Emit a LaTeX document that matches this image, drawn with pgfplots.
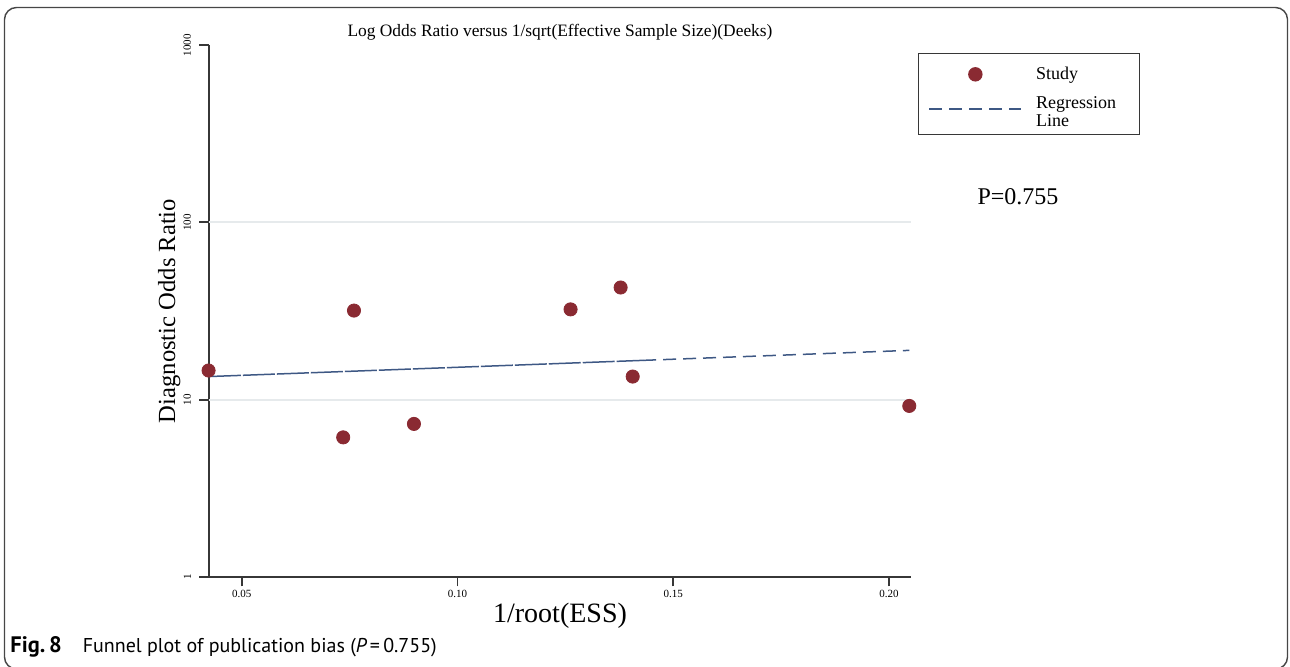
\documentclass[border=0pt]{standalone}
\usepackage{pgfplots}
\pgfplotsset{compat=1.18}
\usepackage{fontspec}
\setmainfont{Liberation Serif}
\newfontfamily\capfont{PT Sans}
\definecolor{ptc}{RGB}{138,42,50}
\definecolor{reg}{RGB}{62,88,132}
\definecolor{grd}{RGB}{230,234,236}
\definecolor{axc}{RGB}{55,55,55}
\definecolor{frm}{RGB}{70,70,70}
\pgfplotsset{
  legscat/.style={legend image code/.code={\draw[##1] plot coordinates {(23pt,0pt)};}},
  legline/.style={legend image code/.code={\draw[##1] (0pt,0pt) -- (46pt,0pt);}},
}
\begin{document}
\begin{tikzpicture}
\useasboundingbox (0,0) rectangle (645pt,-333.5pt);
\begin{scope}[x=0.5pt,y=-0.5pt]
  \draw[frm, line width=0.7pt, rounded corners=6pt] (4.5,669) rectangle (1287.5,7.5);
  \node[font=\fontsize{12}{12}\selectfont, anchor=base] at (1018,205) {P=0.755};
  \node[font=\capfont\fontsize{10}{10}\selectfont, anchor=base west, inner sep=0pt] at (10,652)
    {{\fontsize{11.2}{11}\selectfont\bfseries Fig.\,8}\hspace{1.05em}Funnel plot of publication bias ({\itshape P}\,=\,0.755)};
\end{scope}
\begin{axis}[
  at={(104.5pt,-288.5pt)}, anchor=south west,
  scale only axis, width=351pt, height=266pt,
  xmin=0.0424, xmax=0.2051,
  ymode=log, ymin=1, ymax=1000,
  clip=false,
  axis x line*=bottom, axis y line*=left,
  axis line style={axc, line width=1pt},
  tick style={axc, line width=0.9pt},
  major tick length=4.75pt, tick align=outside,
  xtick={0.05,0.1,0.15,0.2}, xticklabels={0.05,0.10,0.15,0.20},
  ytick={1,10,100,1000}, yticklabels={1,10,100,1000},
  minor ytick={}, yminorticks=false,
  extra y ticks={10,100}, extra y tick labels={},
  extra y tick style={grid=major, major tick length=0pt},
  grid style={grd, line width=1pt},
  tick label style={font=\fontsize{5.5}{6}\selectfont},
  yticklabel style={rotate=90, anchor=south, inner sep=4pt},
  xticklabel style={inner sep=1.5pt},
  title={Log Odds Ratio versus 1/sqrt(Effective Sample Size)(Deeks)},
  title style={font=\fontsize{8.7}{8.7}\selectfont, at={(axis description cs:0.5,1)}, anchor=base, yshift=-1.5pt},
  xlabel={1/root(ESS)},
  xlabel style={font=\fontsize{14}{14}\selectfont, at={(axis description cs:0.5,0)}, anchor=base, yshift=-23pt},
  ylabel={Diagnostic Odds Ratio},
  ylabel style={font=\fontsize{12.3}{12.3}\selectfont, at={(axis description cs:-0.0484,0.5)}, anchor=base},
  legend style={at={(rel axis cs:1.0100,0.9850)}, anchor=north west, draw=axc, line width=0.6pt,
     font=\fontsize{9}{9}\selectfont, inner xsep=5pt, inner ysep=4.5pt, row sep=3pt,
     legend cell align=left, /tikz/every odd column/.append style={column sep=5pt}},
]
\addplot[only marks, mark=*, mark size=3.3pt, mark options={fill=ptc, draw=ptc}, legscat]
  table {
x y
0.0423 14.6
0.0735 6.13
0.0760 31.8
0.0899 7.30
0.1262 32.3
0.1378 42.9
0.1406 13.5
0.2047 9.22
};
\addlegendentry{\makebox[44.5pt][l]{Study}}
\addplot[reg, line width=0.75pt, dash pattern=on 16pt off 1pt, forget plot]
  coordinates {(0.0424,13.5) (0.1430,16.66)};
\addplot[reg, line width=0.75pt, dash pattern=on 6.5pt off 3.5pt, legline]
  coordinates {(0.1430,16.66) (0.2047,18.97)};
\addlegendentry{\begin{tabular}{@{}l@{}}Regression\\Line\rule[-2pt]{0pt}{2pt}\end{tabular}}
\end{axis}
\end{tikzpicture}
\end{document}
